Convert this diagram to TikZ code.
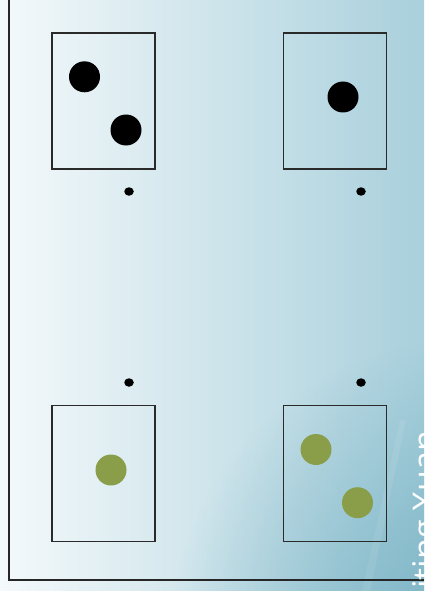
\documentclass[tikz,border=0pt]{standalone}
\usepackage{fontspec}
\newfontfamily\signfont{Open Sans}
\usetikzlibrary{fadings,shapes.geometric}
\definecolor{bgleft}{HTML}{F4F9FB}
\definecolor{bgmid}{HTML}{DFEEF3}
\definecolor{bgright}{HTML}{A9D0DC}
\definecolor{bgdark}{HTML}{78B2C4}
\definecolor{dotgreen}{HTML}{8A9E4A}
\definecolor{boxline}{HTML}{2A2A2A}
\tikzfading[name=radfade, inner color=transparent!0, outer color=transparent!100]
\tikzset{
  card/.style={draw=boxline, line width=1.2pt, minimum width=103pt, minimum height=136pt, inner sep=0pt},
  blackdot/.style={circle, fill=black, minimum size=31pt, inner sep=0pt},
  greendot/.style={circle, fill=dotgreen, minimum size=31pt, inner sep=0pt},
  smalldot/.style={ellipse, fill=black, minimum width=9.5pt, minimum height=8.5pt, inner sep=0pt},
  frameline/.style={draw=black!85, line width=1.8pt},
}
\begin{document}
\begin{tikzpicture}[x=1pt,y=-1pt]
\useasboundingbox (0,0) rectangle (424,591);
% background
\fill[left color=bgleft, middle color=bgmid, right color=bgright] (0,0) rectangle (424,591);
\begin{scope}
\clip (0,0) rectangle (424,591);
\fill[bgdark, path fading=radfade] (470,640) circle (300);
\fill[white, opacity=0.08] (400,420) -- (406,420) -- (370,591) -- (362,591) -- cycle;
\end{scope}
% frame
\coordinate (ftop) at (9,0);
\coordinate (fcorner) at (9,580);
\coordinate (fright) at (424,580);
\draw[frameline] (ftop) -- (fcorner) -- (fright);
% cards
\node[card] (c1) at (103.5,101) {};
\node[card] (c2) at (335,101) {};
\node[card] (c3) at (103.5,473.5) {};
\node[card] (c4) at (335,473.5) {};
% dots
\node[blackdot] (b1) at (84.5,76.8) {};
\node[blackdot] (b2) at (126,130) {};
\node[blackdot] (b3) at (343,97) {};
\node[greendot] (g1) at (111,470) {};
\node[greendot] (g2) at (316,449.5) {};
\node[greendot] (g3) at (357.5,502.7) {};
% small dots
\node[smalldot] (s1) at (129,191.5) {};
\node[smalldot] (s2) at (361,191.5) {};
\node[smalldot] (s3) at (129,382.5) {};
\node[smalldot] (s4) at (361,382.5) {};
% signature
\node[rotate=90, anchor=base west, inner sep=0pt, text=white, font=\signfont\fontsize{34}{34}\selectfont] (sig) at (437,589) {iting Xuan};
\end{tikzpicture}
\end{document}
